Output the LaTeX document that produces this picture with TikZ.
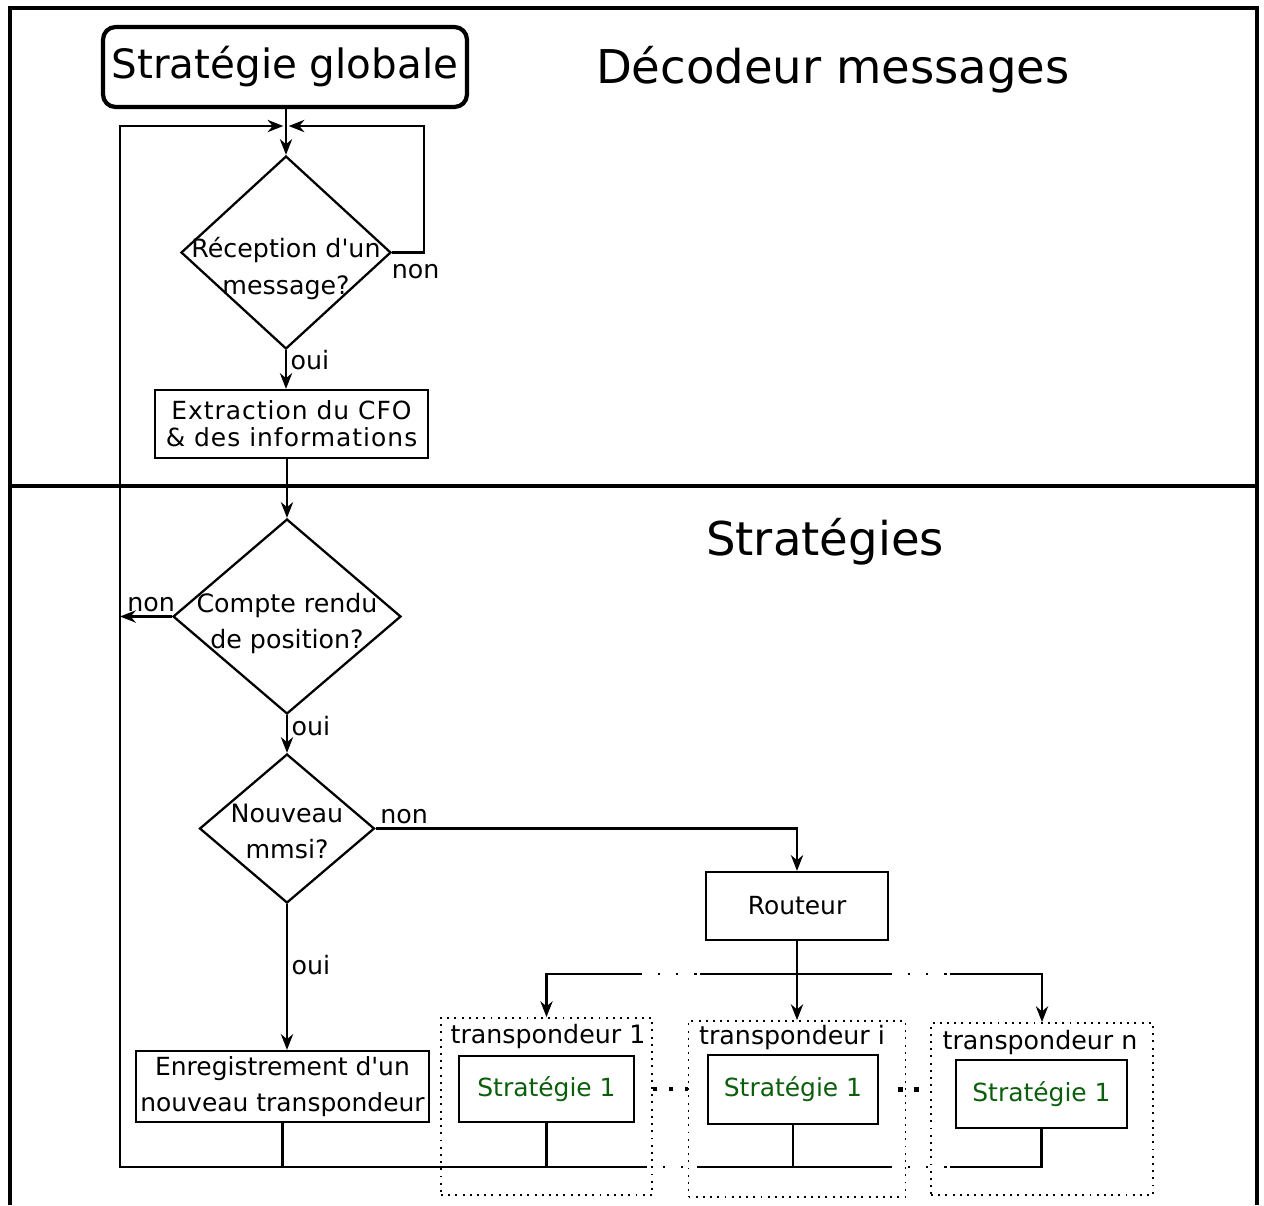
\documentclass[tikz,border=0pt]{standalone}
\usepackage{fontspec}
\setmainfont{DejaVu Sans}
\newfontfamily\spacedfont[LetterSpace=4]{DejaVu Sans}
\usepackage{tikz}
\usetikzlibrary{shapes.geometric,arrows.meta,positioning}
\definecolor{stratcolor}{HTML}{0B5E0B}

\begin{document}
\begin{tikzpicture}[
  x=0.02cm, y=-0.02cm,
  box/.style={draw, line width=1.3pt, font=\fontsize{14.2}{20.5}\selectfont,
              align=center, inner sep=0pt},
  decision/.style={draw, diamond, line width=1.3pt, inner sep=0pt},
  dtext/.style={font=\fontsize{14.4}{20.5}\selectfont, align=center, inner sep=0pt},
  lbl/.style={font=\fontsize{14.4}{17}\selectfont, inner sep=2pt},
  title/.style={font=\fontsize{26.5}{32}\selectfont},
  tbox/.style={draw, line width=1.1pt, dash pattern=on 1.1pt off 3pt, inner sep=0pt},
  strat/.style={box, text=stratcolor},
  arr/.style={-{Stealth[length=9pt, width=7pt]}, line width=1.3pt},
  wire/.style={line width=1.3pt},
  gap/.style={line width=1.3pt, dash pattern=on 1.3pt off 9pt},
  etc/.style={line width=2.4pt, dash pattern=on 2.4pt off 6.7pt},
  frame/.style={line width=2.8pt},
]
  \useasboundingbox (0,0) rectangle (1264,1205);

  % ── Frame ───────────────────────
  \draw[frame] (10,1205) -- (10,8) -- (1257,8) -- (1257,1205);
  \draw[line width=2.4pt] (10,486) -- (1257,486);
  \node[title] (dec) at (833,70) {Décodeur messages};
  \node[title] (strats) at (825,542) {Stratégies};

  % ── Décodeur ────────────────────
  \node[box, line width=2.4pt, rounded corners=0.25cm, font=\fontsize{23}{28}\selectfont,
        minimum width=7.28cm, minimum height=1.6cm] (glob) at (285,67) {Stratégie globale};
  \coordinate (jn) at (286,126);
  \coordinate (looptr) at (424,126);
  \coordinate (loopbl) at (120,1167);

  \node[decision, minimum width=4.2cm, minimum height=3.86cm] (dec1) at (286,252.5) {};
  \node[dtext] (dec1t) at ([yshift=-0.32cm]dec1.center)
        {Réception d\textquotesingle un\\message?};

  \node[box, font=\fontsize{14.2}{15.4}\selectfont\spacedfont,
        minimum width=5.46cm, minimum height=1.36cm] (ext) at (291.5,424)
        {Extraction du CFO\\\& des informations};

  % ── Stratégies ──────────────────
  \node[decision, minimum width=4.56cm, minimum height=3.9cm] (dec2) at (287,616.5) {};
  \node[dtext] (dec2t) at ([yshift=-0.14cm]dec2.center) {Compte rendu\\de position?};

  \node[decision, minimum width=3.5cm, minimum height=2.98cm] (dec3) at (287,828.5) {};
  \node[dtext] (dec3t) at ([yshift=-0.06cm]dec3.center) {Nouveau\\mmsi?};

  \node[box, minimum width=5.86cm, minimum height=1.42cm] (enr) at (282.5,1086.5)
        {Enregistrement d\textquotesingle un\\nouveau transpondeur};
  \node[box, minimum width=3.64cm, minimum height=1.36cm] (rout) at (797,906) {Routeur};

  % ── Transpondeurs ───────────────
  \node[tbox, minimum width=4.22cm, minimum height=3.54cm] (tr1) at (546.5,1106.5) {};
  \node[lbl] (tt1) at (548,1036) {transpondeur 1};
  \node[strat, minimum width=3.5cm, minimum height=1.32cm] (st1) at (546.5,1089) {Stratégie 1};

  \node[tbox, minimum width=4.34cm, minimum height=3.52cm] (tri) at (797,1109) {};
  \node[lbl] (tti) at (792,1037) {transpondeur i};
  \node[strat, minimum width=3.4cm, minimum height=1.38cm] (sti) at (793,1089.5) {Stratégie 1};

  \node[tbox, minimum width=4.44cm, minimum height=3.44cm] (trn) at (1042,1109) {};
  \node[lbl] (ttn) at (1040,1042) {transpondeur n};
  \node[strat, minimum width=3.42cm, minimum height=1.36cm] (stn) at (1041.5,1094) {Stratégie 1};

  \draw[etc] (tr1.east |- st1.east) -- (tri.west |- st1.east);
  \draw[etc] ([xshift=-0.16cm]tri.east |- sti.east) -- (trn.west |- sti.east);

  % ── Arrows ──────────────────────
  \draw[arr] (glob.south -| dec1.north) -- (dec1.north);
  \draw[arr, shorten >=1.5pt] (dec1.east)
        node[lbl, anchor=north west, xshift=-0.1cm, yshift=-0.14cm] {non}
        -| (looptr) -- (jn);
  \draw[arr] (dec1.south) -- node[lbl, right, pos=0.25] {oui} (dec1.south |- ext.north);
  \draw[arr] (ext.south -| dec2.north) -- (dec2.north);
  \draw[arr] (dec2.west) -- node[lbl, above, pos=0.4] {non} (dec2.west -| loopbl);
  \draw[arr] (dec2.south) -- node[lbl, right, pos=0.3] {oui} (dec3.north);
  \draw[arr] (dec3.south) -- node[lbl, right, pos=0.42] {oui} (dec3.south |- enr.north);
  \draw[arr] (dec3.east) node[lbl, above right] {non} -| (rout.north);

  % top bus
  \coordinate (tg1) at (640,974);
  \coordinate (tg2) at (700,974);
  \coordinate (tg3) at (890,974);
  \coordinate (tg4) at (950,974);
  \draw[arr] (tg1) -| (tr1.north);
  \draw[gap] (tg1) -- (tg2);
  \draw[wire] (tg2) -- (tg3);
  \draw[gap] (tg3) -- (tg4);
  \draw[arr] (tg4) -| (trn.north);
  \draw[arr] (rout.south) -- (rout.south |- tri.north);

  % bottom bus + loop
  \coordinate (bg1) at (645,1167);
  \coordinate (bg2) at (697,1167);
  \coordinate (bg3) at (890,1167);
  \coordinate (bg4) at (950,1167);
  \draw[arr, shorten >=1.5pt] (bg1) -- (loopbl) |- (jn);
  \draw[gap] (bg1) -- (bg2);
  \draw[wire] (bg2) -- (bg3);
  \draw[gap] (bg3) -- (bg4);
  \draw[wire] (bg4) -| (stn.south);
  \draw[wire] (enr.south) -- (enr.south |- loopbl);
  \draw[wire] (st1.south) -- (st1.south |- loopbl);
  \draw[wire] (sti.south) -- (sti.south |- loopbl);
\end{tikzpicture}
\end{document}
